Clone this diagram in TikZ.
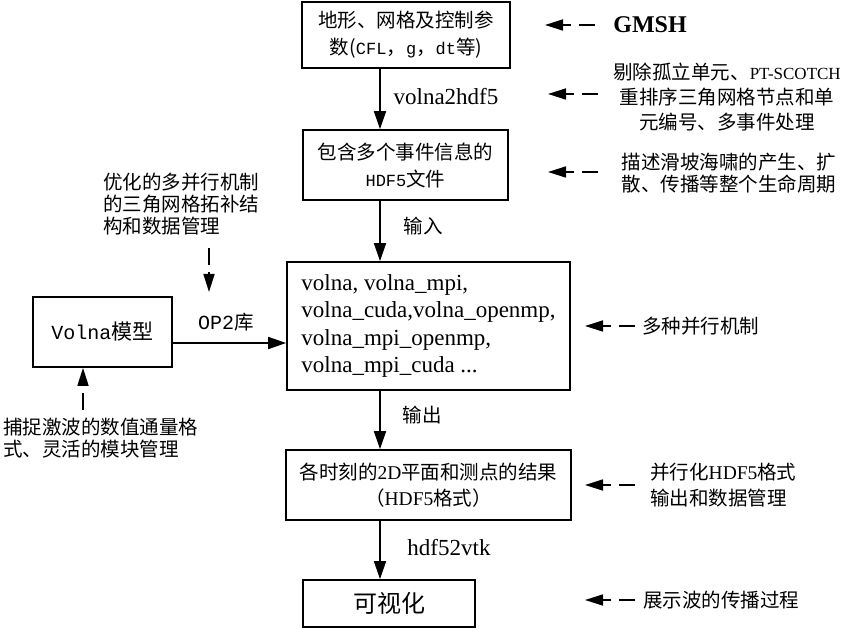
\documentclass[tikz,border=0pt]{standalone}
\usepackage{fontspec}
\setmainfont{Noto Sans CJK SC}
\newfontfamily\en{Liberation Serif}
\newfontfamily\mono{Liberation Mono}
\usetikzlibrary{arrows.meta}
\begin{document}
\begin{tikzpicture}[x=1pt,y=-1pt,
  box/.style={draw,line width=1.7pt,inner sep=0pt,align=center,font=\fontsize{19.5}{27}\selectfont},
  flow/.style={line width=1.7pt,-{Triangle[length=18pt,width=12pt]}},
  hint/.style={line width=1.7pt,dash pattern=on 16pt off 8pt on 80pt,-{Triangle[length=18pt,width=11pt]}},
  zh/.style={inner sep=0pt,font=\fontsize{19.5}{25}\selectfont},
  lab/.style={inner sep=0pt,font=\en\fontsize{23}{28}\selectfont}
]
\useasboundingbox (0,0) rectangle (844,628);
\coordinate (ax) at (380,0);

\node[box,minimum width=208pt,minimum height=66pt] (b1) at (406,35) {地形、网格及控制参\\数({\mono\fontsize{17}{27}\selectfont CFL}，{\mono\fontsize{17}{27}\selectfont g}，{\mono\fontsize{17}{27}\selectfont dt}等)};
\node[box,minimum width=205pt,minimum height=70pt] (b2) at (405.5,165) {包含多个事件信息的\\{\mono\fontsize{17}{27}\selectfont HDF5}文件};
\node[box,minimum width=283pt,minimum height=128pt,align=left,font=\en\fontsize{23}{27.5}\selectfont] (b3) at (428.5,326) {volna, volna\_mpi,\\volna\_cuda,volna\_openmp,\\volna\_mpi\_openmp,\\volna\_mpi\_cuda ...};
\node[box,minimum width=139pt,minimum height=70pt,font=\fontsize{21}{27}\selectfont] (vm) at (102.5,332) {{\mono\fontsize{20}{27}\selectfont Volna}模型};
\node[box,minimum width=285pt,minimum height=70pt,font=\fontsize{19.5}{26}\selectfont] (b4) at (428.5,485) {各时刻的{\en 2D}平面和测点的结果\\（{\en HDF5}格式）};
\node[box,minimum width=172pt,minimum height=47pt,font=\fontsize{24}{28}\selectfont] (b5) at (389,603.5) {可视化};

\draw[flow] (b1.south -| ax) -- (b2.north -| ax);
\draw[flow] (b2.south -| ax) -- (b3.north -| ax);
\draw[flow] (b3.south -| ax) -- (b4.north -| ax);
\draw[flow] (b4.south -| ax) -- (b5.north -| ax);
\coordinate (vmout) at ([yshift=-11pt]vm.east);
\draw[flow] (vmout) -- (b3.west |- vmout);

\node[lab] (l1) at (446,97) {volna2hdf5};
\node[zh] (l2) at (423,226) {输入};
\node[zh] (l3) at (422,415) {输出};
\node[lab] (l4) at (449,548) {hdf52vtk};
\node[zh] (l5) at (226,322) {{\mono\fontsize{20}{25}\selectfont OP2}库};

% left annotations
\node[zh,align=left,font=\fontsize{19.5}{22}\selectfont] (t1) at (181,204) {优化的多并行机制\\的三角网格拓补结\\构和数据管理};
\coordinate (t1e) at (209,248);
\draw[hint,dash pattern=on 17pt off 7pt on 80pt] (t1e) -- (209,292);
\node[zh,align=left,anchor=west,font=\fontsize{19.5}{22}\selectfont] (t2) at (3,438) {捕捉激波的数值通量格\\式、灵活的模块管理};
\coordinate (t2e) at (83,410);
\draw[hint,dash pattern=on 17pt off 9pt on 80pt] (t2e) -- (t2e |- vm.south);

% right annotations
\node[inner sep=0pt,font=\en\bfseries\fontsize{24}{28}\selectfont] (r1) at (650,25) {GMSH};
\node[zh,align=center] (r2) at (727,97) {剔除孤立单元、{\en\fontsize{17}{25}\selectfont PT-SCOTCH}\\重排序三角网格节点和单\\元编号、多事件处理};
\node[zh,align=left,font=\fontsize{19.5}{22}\selectfont] (r3) at (729,173) {描述滑坡海啸的产生、扩\\散、传播等整个生命周期};
\node[zh,anchor=west] (r4) at (642,326) {多种并行机制};
\node[zh,align=left,anchor=west,font=\fontsize{19.5}{26}\selectfont] (r5) at (650,485) {并行化{\en HDF5}格式\\输出和数据管理};
\node[zh,anchor=west] (r6) at (643,600) {展示波的传播过程};

\coordinate (a1) at (595,25);
\coordinate (a2) at (598,94);
\coordinate (a3) at (598,172);
\coordinate (a4) at (635,326);
\coordinate (a5) at (635,485);
\coordinate (a6) at (635,600);
\draw[hint] (a1) -- ++(-50,0);
\draw[hint] (a2) -- ++(-50,0);
\draw[hint] (a3) -- ++(-50,0);
\draw[hint] (a4) -- ++(-50,0);
\draw[hint] (a5) -- ++(-50,0);
\draw[hint] (a6) -- ++(-50,0);
\end{tikzpicture}
\end{document}
